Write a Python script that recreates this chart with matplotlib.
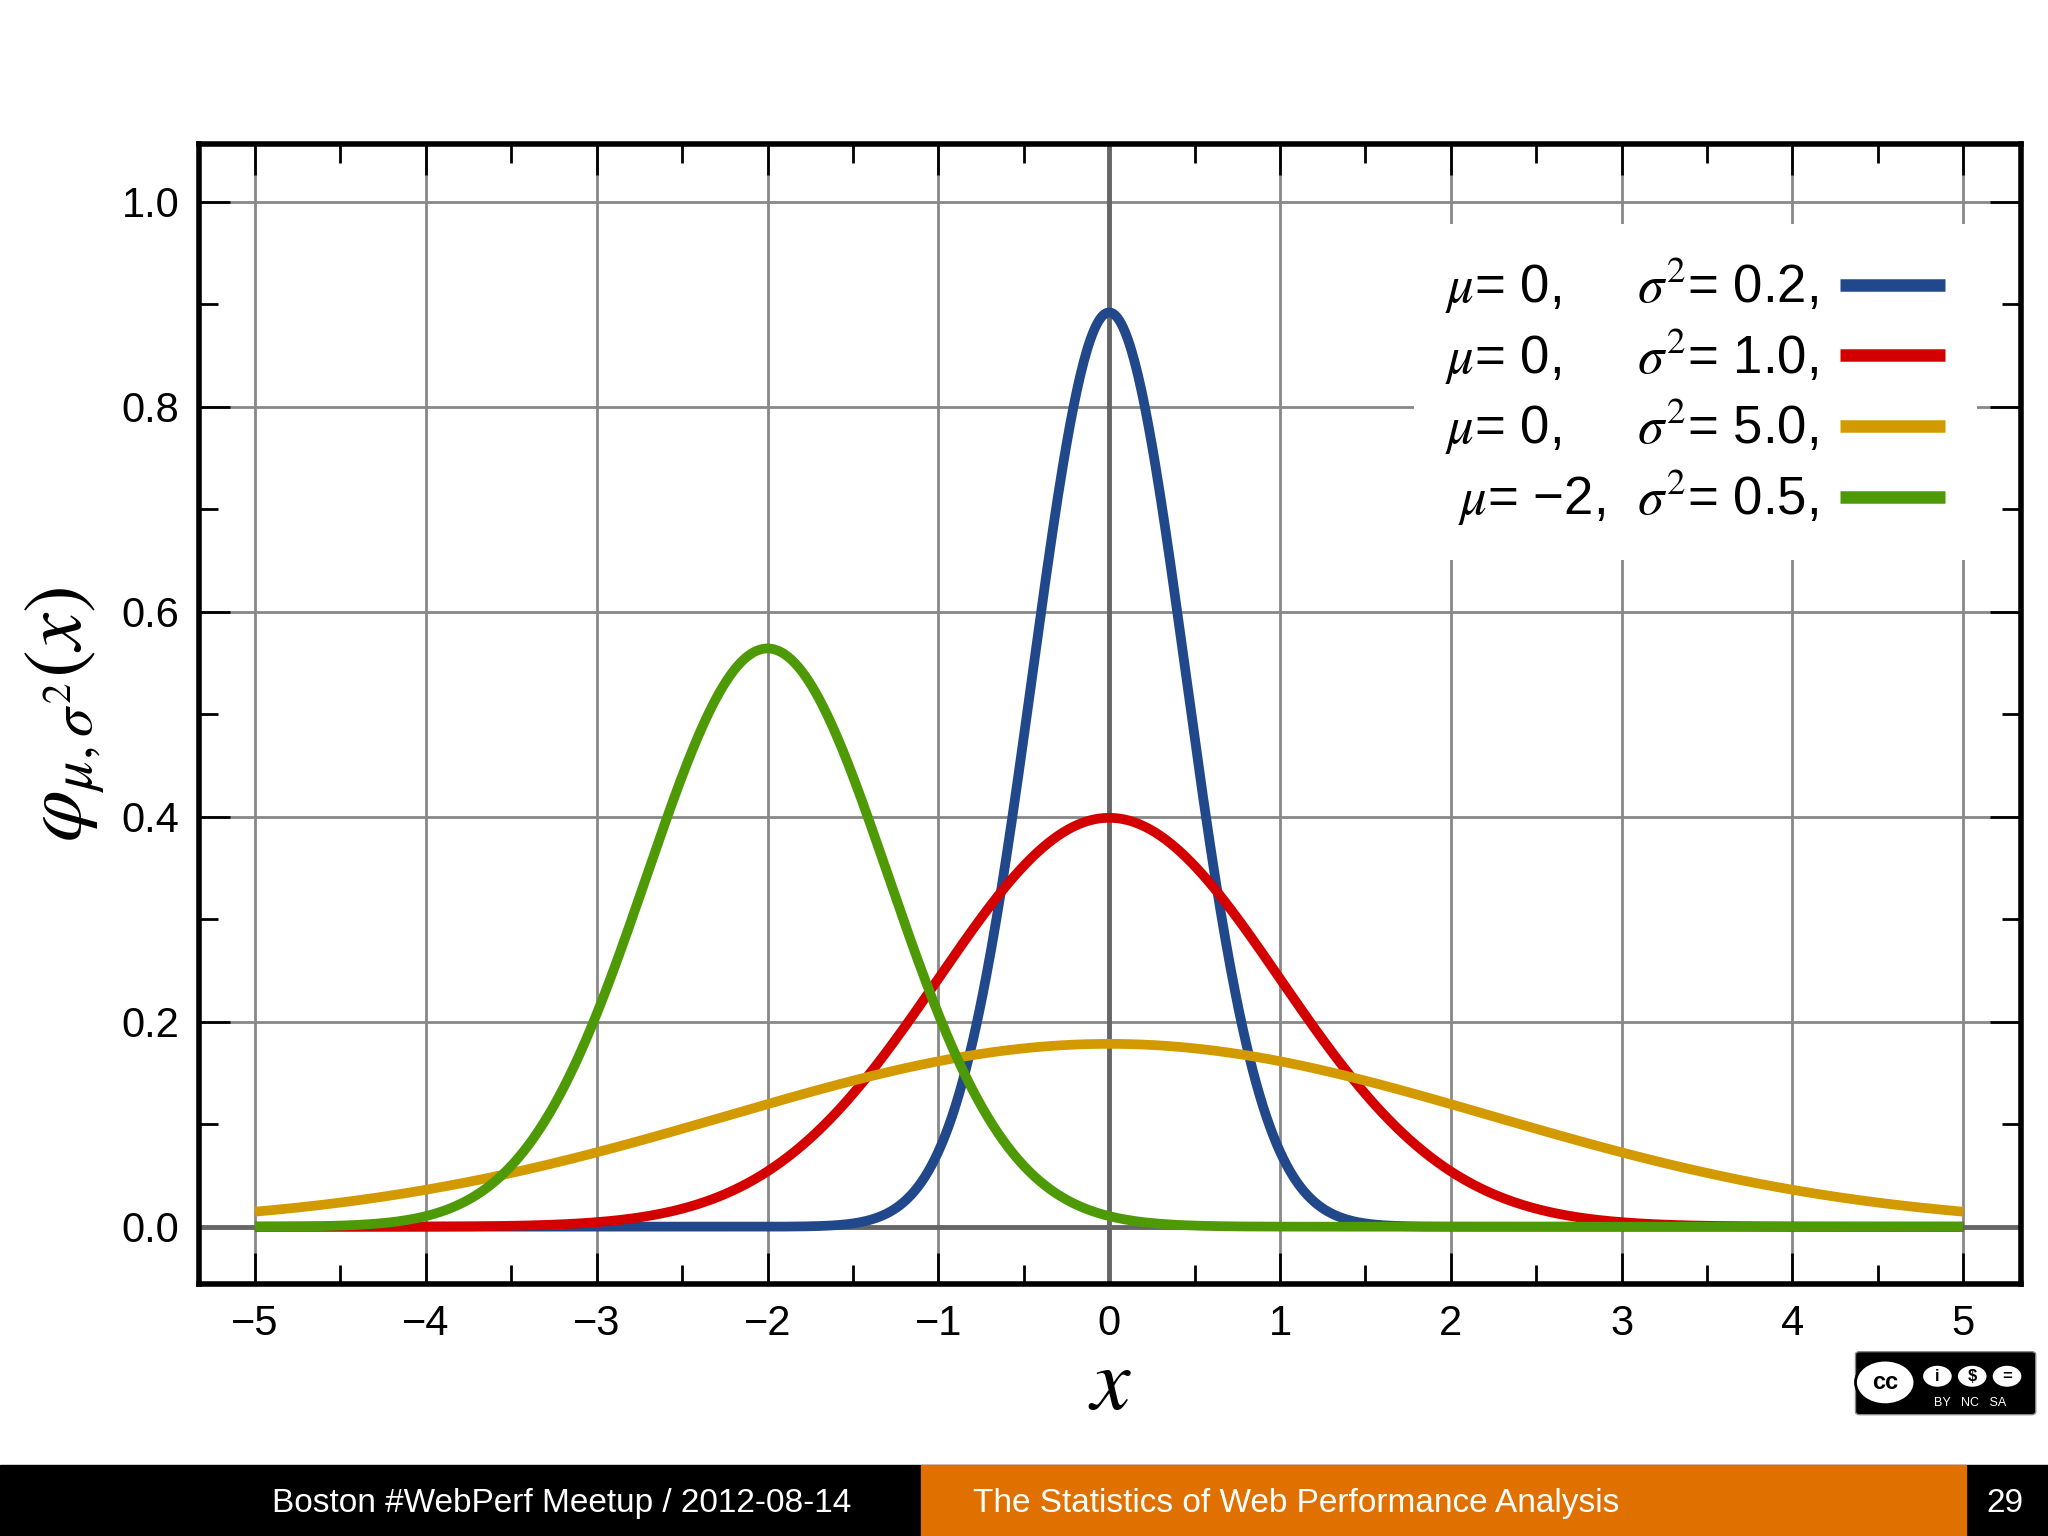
import numpy as np
import matplotlib
matplotlib.use("Agg")
import matplotlib.pyplot as plt
from matplotlib.patches import Rectangle, FancyBboxPatch, Circle

plt.rcParams['font.family'] = ['Liberation Sans', 'DejaVu Sans']
plt.rcParams['mathtext.fontset'] = 'stix'
plt.rcParams['axes.unicode_minus'] = True

mus = [0, 0, 0, -2]
sigma2s = [0.2, 1.0, 5.0, 0.5]
colors = ['#20488a', '#d40000', '#d39a00', '#4e9a06']
labels = [r'$\mu$= 0,     $\sigma^2$= 0.2,', r'$\mu$= 0,     $\sigma^2$= 1.0,',
          r'$\mu$= 0,     $\sigma^2$= 5.0,', r'$\mu$= −2,  $\sigma^2$= 0.5,']
xticks = [-5, -4, -3, -2, -1, 0, 1, 2, 3, 4, 5]
yticks = [0.0, 0.2, 0.4, 0.6, 0.8, 1.0]

fig = plt.figure(figsize=(20.48, 15.36), dpi=100)
ax = fig.add_axes([0.097, 0.164, 0.890, 0.742])
x = np.linspace(-5, 5, 1001)
for mu, s2, c, lab in zip(mus, sigma2s, colors, labels):
    y = np.exp(-(x - mu) ** 2 / (2 * s2)) / np.sqrt(2 * np.pi * s2)
    ax.plot(x, y, color=c, lw=7, label=lab, zorder=3, solid_capstyle='butt')

ax.set_xlim(-5.33, 5.34)
ax.set_ylim(-0.056, 1.056)
ax.set_xticks(xticks)
ax.set_yticks(yticks)
ax.set_xticklabels([f'{v}'.replace('-', '−') for v in xticks])
ax.set_yticklabels([f'{v:.1f}' for v in yticks])
ax.set_xticks(np.arange(-5, 5.01, 0.5), minor=True)
ax.set_yticks(np.arange(0, 1.01, 0.1), minor=True)
ax.grid(True, which='major', color='#888888', lw=2)
ax.axhline(0, color='#666666', lw=3.5, zorder=2)
ax.axvline(0, color='#666666', lw=3.5, zorder=2)
ax.tick_params(which='both', direction='in', top=True, right=True, labelsize=30, pad=14)
ax.tick_params(which='major', length=22, width=2)
ax.tick_params(which='minor', length=14, width=2)
for s in ax.spines.values():
    s.set_linewidth(4)
ax.set_xlabel(r'$x$', fontsize=64, labelpad=0)
ax.set_ylabel(r'$\varphi_{\mu,\sigma^2}(x)$', fontsize=60, labelpad=10)

leg = ax.legend(loc='upper right', bbox_to_anchor=(0.99, 0.953), markerfirst=False,
                fontsize=38, frameon=True, framealpha=1, edgecolor='white',
                handlelength=2.0, handletextpad=0.4, labelspacing=0.2, borderpad=0.6)
leg.get_frame().set_linewidth(0)
for h in leg.get_lines():
    h.set_linewidth(9)

# footer
fig.patches.append(Rectangle((0, 0), 1, 0.046, transform=fig.transFigure, color='black', zorder=0))
fig.patches.append(Rectangle((0.4496, 0), 0.5102, 0.046, transform=fig.transFigure, color='#e07000', zorder=1))
fig.text(0.2745, 0.021, 'Boston #WebPerf Meetup / 2012-08-14', color='white', fontsize=24, ha='center', va='center')
fig.text(0.633, 0.021, 'The Statistics of Web Performance Analysis', color='white', fontsize=24, ha='center', va='center')
fig.text(0.979, 0.021, '29', color='white', fontsize=24, ha='center', va='center')

# cc badge
fig.patches.append(FancyBboxPatch((0.908, 0.081), 0.084, 0.037, boxstyle='round,pad=0.002',
                                  transform=fig.transFigure, fc='black', ec='#888888'))
fig.patches.append(Circle((0.9205, 0.1), 0.0145, transform=fig.transFigure, fc='white', ec='black', lw=2))
fig.text(0.9205, 0.1, 'cc', color='black', fontsize=17, fontweight='bold', ha='center', va='center')
for cx, s in zip([0.946, 0.963, 0.980], ['i', '$', '=']):
    fig.patches.append(Circle((cx, 0.104), 0.0075, transform=fig.transFigure, fc='white', ec='black', lw=1.5))
    fig.text(cx, 0.104, s, color='black', fontsize=12, fontweight='bold', ha='center', va='center')
fig.text(0.962, 0.0865, 'BY   NC   SA', color='white', fontsize=9, ha='center', va='center')

fig.savefig('out.png', dpi=100)
